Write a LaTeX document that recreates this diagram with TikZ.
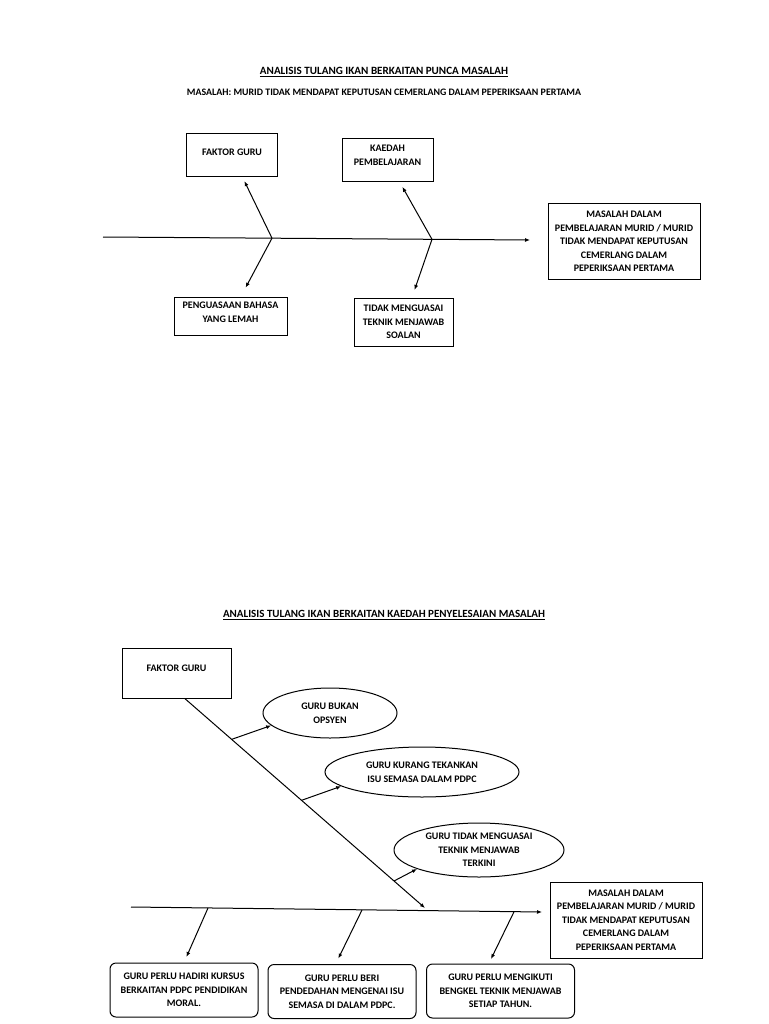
\documentclass[tikz,border=0pt]{standalone}
\usepackage{fontspec}
\setmainfont{Carlito}
\usetikzlibrary{arrows.meta,shapes.geometric,calc}

\begin{document}
\begin{tikzpicture}[x=1pt,y=-1pt,line width=1pt,>={Latex[length=5pt,width=4pt]},
    font=\bfseries\fontsize{10}{13.5}\selectfont]

      \useasboundingbox (0,0) rectangle (768,1024);
      \fill[white] (0,0) rectangle (768,1024);

      \node[font=\bfseries\fontsize{11.1}{13}\selectfont] (judul1) at (384,72) {\underline{ANALISIS TULANG IKAN BERKAITAN PUNCA MASALAH}};
      \node[font=\bfseries\fontsize{9.9}{12}\selectfont] (isu) at (384,92)
        {MASALAH: MURID TIDAK MENDAPAT KEPUTUSAN CEMERLANG DALAM PEPERIKSAAN PERTAMA};
      \node[font=\bfseries\fontsize{11}{13}\selectfont] (judul2) at (384,615) {\underline{ANALISIS TULANG IKAN BERKAITAN KAEDAH PENYELESAIAN MASALAH}};

      \begin{scope}[every node/.style={draw,rectangle,align=center,inner sep=2pt}]
        \node[minimum width=91,minimum height=43,text depth=7pt] (guru1) at (232,155.5) {FAKTOR GURU};
        \node[minimum width=91,minimum height=43,text depth=10pt] (kaedah) at (387.5,160.5) {KAEDAH\\PEMBELAJARAN};
        \node[minimum width=152,minimum height=75] (masalah1) at (624,241.5)
          {MASALAH DALAM\\PEMBELAJARAN MURID / MURID\\TIDAK MENDAPAT KEPUTUSAN\\CEMERLANG DALAM\\PEPERIKSAAN PERTAMA};
        \node[minimum width=113,minimum height=38,text depth=8pt] (bahasa) at (230.5,316) {PENGUASAAN BAHASA\\YANG LEMAH};
        \node[minimum width=99,minimum height=48] (soalan) at (403.5,322) {TIDAK MENGUASAI\\TEKNIK MENJAWAB\\SOALAN};

        \node[minimum width=109,minimum height=50,text depth=10pt] (guru2) at (176.5,673) {FAKTOR GURU};
        \node[minimum width=152,minimum height=76] (masalah2) at (626,920)
          {MASALAH DALAM\\PEMBELAJARAN MURID / MURID\\TIDAK MENDAPAT KEPUTUSAN\\CEMERLANG DALAM\\PEPERIKSAAN PERTAMA};
      \end{scope}

      \begin{scope}[every node/.style={draw,ellipse,align=center,inner sep=0pt}]
        \node[minimum width=134,minimum height=50] (opsyen) at (330,713) {GURU BUKAN\\OPSYEN};
        \node[minimum width=194,minimum height=50] (semasa) at (422,772) {GURU KURANG TEKANKAN\\ISU SEMASA DALAM PDPC};
        \node[minimum width=170,minimum height=54] (terkini) at (479,850) {GURU TIDAK MENGUASAI\\TEKNIK MENJAWAB\\TERKINI};
      \end{scope}

      \begin{scope}[every node/.style={draw,rectangle,rounded corners=6pt,align=center,
          minimum width=148,minimum height=54}]
        \node (kursus) at (184,990) {GURU PERLU HADIRI KURSUS\\BERKAITAN PDPC PENDIDIKAN\\MORAL.};
        \node (dedah) at (342,991.5) {GURU PERLU BERI\\PENDEDAHAN MENGENAI ISU\\SEMASA DI DALAM PDPC.};
        \node (bengkel) at (500.5,991) {GURU PERLU MENGIKUTI\\BENGKEL TEKNIK MENJAWAB\\SETIAP TAHUN.};
      \end{scope}

      \coordinate (ekor1) at (103,237);
      \coordinate (kepala1) at (530,240);
      \coordinate (s1) at (272,238.2);
      \coordinate (s2) at (432,239.3);

      \coordinate (ekor2) at (131,907);
      \coordinate (kepala2) at (542,912);
      \coordinate (t1) at (208,908);
      \coordinate (t2) at (362,910);
      \coordinate (t3) at (514,911.8);
      \coordinate (tulang) at (425,908);

      \draw[->] (ekor1) -- (kepala1);
      \path (s1) edge[->,shorten >=4pt] (guru1);
      \path (s1) edge[->,shorten >=10pt] (bahasa);
      \path (s2) edge[->,shorten >=5pt] (kaedah);
      \path (s2) edge[->,shorten >=8pt] (soalan);

      \draw[->] (ekor2) -- (kepala2);
      \draw[->] (guru2.-72) -- (tulang);
      \coordinate (c1) at ($(guru2.-72)!0.195!(tulang)$);
      \coordinate (c2) at ($(guru2.-72)!0.486!(tulang)$);
      \coordinate (c3) at ($(guru2.-72)!0.871!(tulang)$);
      \path (c1) edge[->] (opsyen.192);
      \path (c2) edge[->] (semasa.190);
      \path (c3) edge[->] (terkini.197);
      \path (t1) edge[->,shorten >=6pt] (kursus.north);
      \path (t2) edge[->,shorten >=6pt] (dedah.103);
      \path (t3) edge[->,shorten >=5pt] (bengkel.113);

    \end{tikzpicture}
\end{document}
